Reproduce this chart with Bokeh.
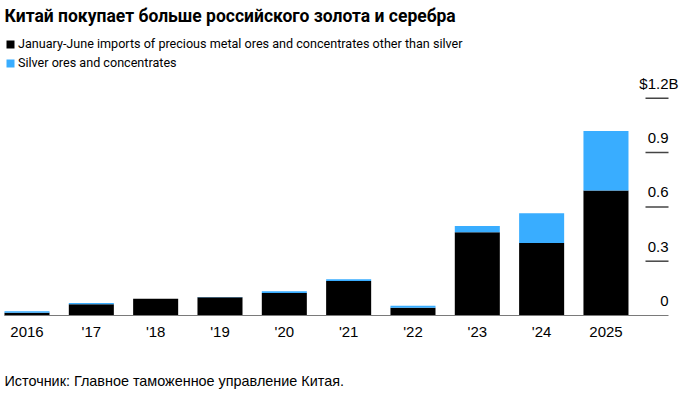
from bokeh.plotting import figure
from bokeh.models import (Range1d, Label, Legend, LegendItem,
                          ColumnDataSource, GlobalInlineStyleSheet)
from bokeh.core.properties import value
from bokeh.embed import file_html
from bokeh.resources import INLINE

# ---- data ----
years = ["2016", "'17", "'18", "'19", "'20", "'21", "'22", "'23", "'24", "2025"]
other_metals = [0.015, 0.062, 0.092, 0.101, 0.125, 0.191, 0.043, 0.46, 0.40, 0.69]
silver = [0.009, 0.007, 0.001, 0.001, 0.009, 0.009, 0.011, 0.035, 0.165, 0.33]
y_ticks = [0, 0.3, 0.6, 0.9, 1.2]
y_tick_labels = ["0", "0.3", "0.6", "0.9", "$1.2"]
y_unit = "B"

title_text = "Китай покупает больше российского золота и серебра"
series_names = ["January-June imports of precious metal ores and concentrates other than silver",
                "Silver ores and concentrates"]
source_text = "Источник: Главное таможенное управление Китая."

BLACK = "#000000"
BLUE = "#39adff"
SANS = "Liberation Sans"
HEAD = "Roboto"

W, H = 687, 394
# layout in pixels (style, not data)
PX_PER_CAT = 64.33
PX_PER_UNIT = 181.0
BASE_Y = 315          # pixel row of value 0
FIRST_X = 26.5        # pixel column of first category centre
AXIS_LEFT_PX, AXIS_RIGHT_PX, TICK_LEFT_PX = 4, 668, 645

def xdata(px):
    return (px - FIRST_X) / PX_PER_CAT

x_start, x_end = xdata(0), xdata(W)
y_start, y_end = -(H - BASE_Y) / PX_PER_UNIT, BASE_Y / PX_PER_UNIT

xs = list(range(len(years)))
src = ColumnDataSource(dict(x=xs, other=other_metals, silver=silver))

p = figure(width=W, height=H, output_backend="svg", toolbar_location=None,
           x_range=Range1d(x_start, x_end), y_range=Range1d(y_start, y_end),
           min_border=0, outline_line_color=None,
           background_fill_color="white", border_fill_color="white")
p.stylesheets = [GlobalInlineStyleSheet(css="html, body { margin: 0 !important; padding: 0 !important; }")]
p.xgrid.visible = False
p.ygrid.visible = False
p.xaxis.visible = False
p.yaxis.visible = False

renderers = p.vbar_stack(["other", "silver"], x="x", width=0.7, source=src,
                         color=[BLACK, BLUE], line_width=0)

# baseline
p.segment(x0=[xdata(AXIS_LEFT_PX)], x1=[xdata(AXIS_RIGHT_PX)], y0=[0], y1=[0],
          line_color="#7a7a7a", line_width=1)
# category labels
p.text(x=xs, y=[0] * len(xs), text=years, text_align="center", text_baseline="middle",
       y_offset=16, text_font=value(SANS), text_font_size="15px", text_color="#000000")

# y ticks on the right
n = len(y_ticks) - 1
p.segment(x0=[xdata(TICK_LEFT_PX)] * n, x1=[xdata(AXIS_RIGHT_PX)] * n,
          y0=y_ticks[1:], y1=y_ticks[1:], line_color="#444444", line_width=1.5)
p.text(x=[xdata(AXIS_RIGHT_PX)] * len(y_ticks), y=y_ticks, text=y_tick_labels,
       text_align="right", text_baseline="middle", y_offset=-14.5,
       text_font=value(SANS), text_font_size="15px", text_color="#000000")
p.text(x=[xdata(AXIS_RIGHT_PX)], y=[y_ticks[-1]], text=[y_unit],
       text_align="left", text_baseline="middle", y_offset=-14.5,
       text_font=value(SANS), text_font_size="15px", text_color="#000000")

# title
p.add_layout(Label(x=4, y=H - 15, x_units="screen", y_units="screen", text=title_text,
                   text_baseline="middle", text_font=HEAD, text_font_style="bold",
                   text_font_size="17.5px", text_color="#000000"))

# legend
legend = Legend(items=[LegendItem(label=series_names[0], renderers=[renderers[0]]),
                       LegendItem(label=series_names[1], renderers=[renderers[1]])],
                location=(5, H - 72), orientation="vertical",
                glyph_width=10, glyph_height=10, label_height=19, label_standoff=3,
                spacing=0, padding=0, margin=0,
                label_text_font=HEAD, label_text_font_size="12.6px",
                label_text_color="#000000", label_text_baseline="middle",
                border_line_color=None, background_fill_alpha=0)
p.add_layout(legend)

# source
p.add_layout(Label(x=4, y=H - 380, x_units="screen", y_units="screen", text=source_text,
                   text_baseline="middle", text_font=SANS, text_font_size="14.4px",
                   text_color="#000000"))

open("out.html", "w").write(file_html(p, INLINE))
